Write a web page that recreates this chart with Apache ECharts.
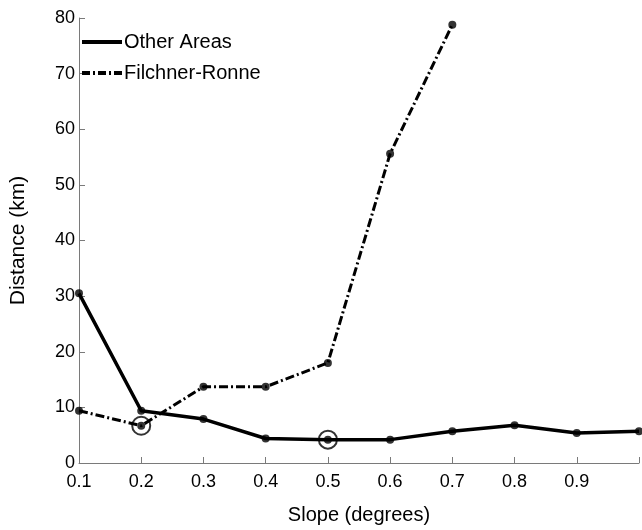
<!DOCTYPE html>
<html>
<head>
<meta charset="utf-8">
<script src="https://cdn.jsdelivr.net/npm/echarts@6/dist/echarts.min.js"></script>
<style>html,body{margin:0;padding:0;background:#fff;}#c{width:642px;height:530px;}</style>
</head>
<body>
<div id="c"></div>
<script>
var slopes = ['0.1','0.2','0.3','0.4','0.5','0.6','0.7','0.8','0.9','1.0'];
var otherAreas = [30.5, 9.4, 7.9, 4.4, 4.2, 4.2, 5.7, 6.8, 5.4, 5.7];
var filchnerRonne = [9.4, 6.7, 13.7, 13.7, 18.0, 55.6, 78.8, null, null, null];
var yTicks = [0, 10, 20, 30, 40, 50, 60, 70, 80];
// circled points: category indices
var circledFilchner = [1];
var circledOther = [4];

var FONT = '"Liberation Sans", Arial, sans-serif';
var axisGray = '#7a7a7a';

var circled = [];
circledFilchner.forEach(function(i){ circled.push([slopes[i], filchnerRonne[i]]); });
circledOther.forEach(function(i){ circled.push([slopes[i], otherAreas[i]]); });

var solidIcon = 'path://M0,0h40v4h-40z';
var dashDotIcon = 'path://M0,0h8v4h-8z M11,0h2v4h-2z M16,0h8v4h-8z M27,0h2v4h-2z M32,0h8v4h-8z';

var chart = echarts.init(document.getElementById('c'), null, {renderer: 'canvas'});
chart.setOption({
  animation: false,
  backgroundColor: '#fff',
  grid: {left: 67, right: 1, top: 18, bottom: 59, containLabel: false},
  legend: {
    left: 77, top: 27, orient: 'vertical',
    itemWidth: 40, itemHeight: 4, itemGap: 11,
    textStyle: {fontFamily: FONT, fontSize: 20, color: '#000', padding: [0,0,0,-3]},
    data: [
      {name: 'Other Areas', icon: solidIcon, itemStyle: {color: '#000'}},
      {name: 'Filchner-Ronne', icon: dashDotIcon, itemStyle: {color: '#000'}}
    ]
  },
  xAxis: {
    type: 'category', data: slopes, boundaryGap: false,
    name: 'Slope (degrees)', nameLocation: 'middle', nameGap: 42,
    nameTextStyle: {fontFamily: FONT, fontSize: 20, color: '#000'},
    axisLine: {lineStyle: {color: axisGray, width: 1}},
    axisTick: {inside: true, length: 6, lineStyle: {color: axisGray}, interval: 0},
    axisLabel: {fontFamily: FONT, fontSize: 18, color: '#000', margin: 10, interval: 0,
      formatter: function(v, i){ return i === slopes.length - 1 ? '' : v; }},
    splitLine: {show: false}
  },
  yAxis: {
    type: 'value', min: yTicks[0], max: yTicks[yTicks.length-1], interval: 10,
    name: 'Distance (km)', nameLocation: 'middle', nameGap: 50,
    nameTextStyle: {fontFamily: FONT, fontSize: 21, color: '#000'},
    axisLine: {show: true, lineStyle: {color: axisGray, width: 1}},
    axisTick: {show: true, inside: true, length: 6, lineStyle: {color: axisGray}},
    axisLabel: {fontFamily: FONT, fontSize: 18, color: '#000', margin: 4},
    splitLine: {show: false}
  },
  series: [
    {
      name: 'Other Areas', type: 'line', data: otherAreas,
      symbol: 'none', lineStyle: {color: '#000', width: 3.5}, itemStyle: {color: '#000'}
    },
    {
      name: 'Filchner-Ronne', type: 'line', data: filchnerRonne,
      symbol: 'none', lineStyle: {color: '#000', width: 3, type: [9, 3, 2, 3]}, itemStyle: {color: '#000'}
    },
    {
      type: 'scatter', data: otherAreas, symbol: 'circle', symbolSize: 8,
      itemStyle: {color: '#000'}, z: 3
    },
    {
      type: 'scatter', data: filchnerRonne, symbol: 'circle', symbolSize: 8,
      itemStyle: {color: '#000'}, z: 3
    },
    {
      type: 'scatter', data: circled, symbol: 'circle', symbolSize: 18,
      itemStyle: {color: 'none', borderColor: '#000', borderWidth: 2}, z: 4
    }
  ]
});
</script>
</body>
</html>
